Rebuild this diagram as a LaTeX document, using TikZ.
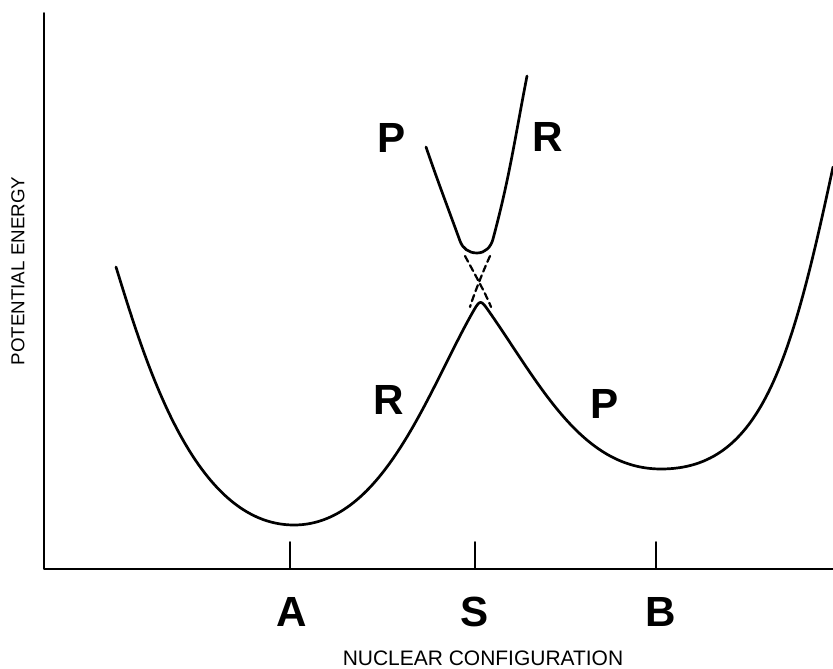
\documentclass[tikz,border=0pt]{standalone}
\usepackage{fontspec}
\setmainfont{Liberation Sans}
\usepackage{tikz}
\usetikzlibrary{calc,positioning}

\begin{document}
\begin{tikzpicture}[x=0.3mm,y=0.3mm,line cap=round,line join=round,
     curve/.style={line width=2.3pt},
     crossing/.style={line width=1.9pt,dash pattern=on 5.5pt off 3.5pt},
     axisline/.style={line width=1.5pt},
     statelbl/.style={font=\fontsize{36}{36}\selectfont\bfseries,inner sep=0pt},
     axislbl/.style={font=\fontsize{17.9}{18}\selectfont,inner sep=0pt}]
    \useasboundingbox (-44,-99) rectangle (789,569);
    \coordinate (origin) at (0,0);
    \coordinate (ytop) at (0,556);
    \coordinate (xend) at (789,0);
    \draw[axisline] (ytop) -- (origin) -- (xend);
    \foreach \x/\n in {246/A,431/S,612/B}
      \draw[axisline] (\x,0) coordinate (base\n) -- ++(0,27) coordinate (tick\n);
    \foreach \x/\n in {248/A,431/S,617/B}
      \node[statelbl] (lbl\n) at (\x,-43) {\n};
    \node[axislbl] (xlabel) at (439,-89) {NUCLEAR CONFIGURATION};
    \node[axislbl,font=\fontsize{16}{16}\selectfont,rotate=90] (ylabel) at (-26,298) {POTENTIAL ENERGY};
    \coordinate (minA) at (250,44);
    \coordinate (minB) at (617,100);
    \coordinate (topmin) at (433,316);
    \draw[curve] (72,302) .. controls (102,205) and (150,44) .. (minA)
      .. controls (340,44) and (385,181) .. (430,259)
      .. controls (436,269.4) and (437.1,268.8) .. (444,259)
      .. controls (495.6,185.3) and (537,100) .. (minB)
      .. controls (717,100) and (747,206) .. (789,402);
    \draw[curve] (382,422) to[out=-71,in=110] (416,328) to[out=-70,in=180] (topmin)
      to[out=0,in=255] (449,330) to[out=75,in=259] (483,493);
    \draw[crossing] (421,313) .. controls (428,300) and (442,275) .. (447,262);
    \draw[crossing] (446,313) .. controls (440,300) and (430,275) .. (426,262);
    \node[statelbl] (pup) at (348,431) {P};
    \node[statelbl] (rup) at (504,432) {R};
    \node[statelbl] (rlow) at (345,169) {R};
    \node[statelbl] (plow) at (561,165) {P};
  \end{tikzpicture}
\end{document}
